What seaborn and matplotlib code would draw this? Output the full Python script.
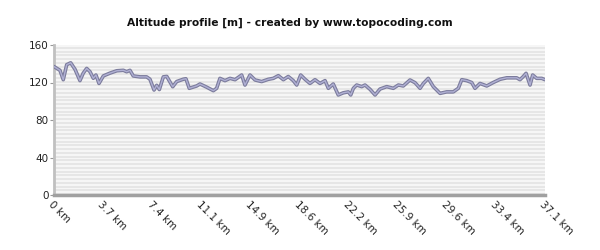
import matplotlib
matplotlib.use("Agg")
import matplotlib.pyplot as plt
import seaborn as sns
import pandas as pd

distance_km = [0.0, 0.45, 0.70, 0.96, 1.26, 1.59, 1.96, 2.21, 2.47, 2.72, 2.97, 3.17, 3.40, 3.73,
               4.23, 4.74, 5.24, 5.49, 5.74, 5.99, 6.50, 7.00, 7.25, 7.56, 7.76, 7.96, 8.26, 8.52,
               8.97, 9.27, 9.77, 9.97, 10.22, 10.78, 11.03, 11.54, 12.04, 12.29, 12.54, 12.92,
               13.30, 13.68, 14.18, 14.43, 14.81, 15.19, 15.69, 16.19, 16.57, 16.95, 17.33, 17.70,
               18.08, 18.34, 18.64, 18.97, 19.34, 19.72, 20.10, 20.48, 20.73, 21.10, 21.48, 21.86,
               22.24, 22.42, 22.62, 22.87, 23.25, 23.50, 23.88, 24.26, 24.63, 25.14, 25.64, 26.02,
               26.39, 26.90, 27.28, 27.66, 27.91, 28.28, 28.66, 29.17, 29.67, 30.17, 30.55, 30.81,
               31.18, 31.56, 31.81, 32.19, 32.70, 33.19, 33.70, 34.21, 34.96, 35.21, 35.46, 35.67,
               35.97, 36.17, 36.47, 36.85, 37.1]
altitude_m = [137, 133, 123, 139, 141, 134, 122, 130, 135, 131.5, 124.5, 128, 119, 127,
              130, 132.5, 133, 131.5, 133, 127, 126, 126, 123.5, 112, 117, 112.5, 126, 126.5,
              115.5, 121, 123.5, 124, 113.8, 116.3, 118.4, 115, 111.3, 113.8, 124.4, 122,
              124.4, 123, 128, 117.3, 128, 122.7, 121, 123.4, 124.4, 127.3, 123, 126.4,
              122, 117.3, 128, 123.4, 119, 123, 119, 122, 113.8, 118.4, 106.7, 109,
              110, 106.7, 113.8, 117.3, 115.6, 117.3, 112.7, 106.7, 113, 115.6, 113.8, 117.3,
              116.3, 122.7, 119.8, 113.8, 119, 124.4, 115.6, 108.4, 110, 110, 113.8, 123,
              122, 120, 113.8, 119, 116.3, 120, 123.4, 125, 125, 123, 126.4, 129.8,
              117.3, 128, 124.4, 124.4, 123]

tick_labels = ["0 km", "3.7 km", "7.4 km", "11.1 km", "14.9 km", "18.6 km",
               "22.2 km", "25.9 km", "29.6 km", "33.4 km", "37.1 km"]
y_ticks = [0, 40, 80, 120, 160]
title = "Altitude profile [m] - created by www.topocoding.com"

df = pd.DataFrame({"km": distance_km, "alt": altitude_m})

sns.set_style("white")
fig = plt.figure(figsize=(6, 2.5), dpi=100)
ax = fig.add_axes([54/600, 1 - 195/250, (545 - 54)/600, 150/250])
ax.set_facecolor("#f6f6f6")

for lo in range(0, 160, 4):
    ax.axhspan(lo, lo + 2, color="#e6e6e6", lw=0, zorder=0)

sns.lineplot(data=df, x="km", y="alt", ax=ax, color="#7c7c9c", lw=2.6, sort=False, zorder=3)
sns.lineplot(data=df, x="km", y="alt", ax=ax, color="#b0b0d4", lw=1.0, sort=False, zorder=4)

ax.set_xlim(0, 37.1)
ax.set_ylim(0, 160)
ax.set_xlabel("")
ax.set_ylabel("")
xt = [37.1 * i / 10 for i in range(11)]
ax.set_xticks(xt)
ax.set_xticklabels(tick_labels, rotation=-45, ha="left", va="top",
                   rotation_mode="anchor", fontsize=7.5, color="#222222")
ax.set_yticks(y_ticks)
ax.set_yticklabels([str(v) for v in y_ticks], fontsize=7.5, color="#222222")
ax.tick_params(axis="y", length=3, width=0.8, color="#999999", pad=1, left=True)
ax.tick_params(axis="x", length=0, pad=3)

for s in ["top", "right"]:
    ax.spines[s].set_visible(False)
ax.spines["left"].set_color("#c0c0c0")
ax.spines["left"].set_linewidth(2)
ax.spines["bottom"].set_color("#a0a0a0")
ax.spines["bottom"].set_linewidth(2.5)

fig.text(290/600, 1 - 23/250, title, ha="center", va="center",
         fontsize=7.7, fontweight="bold", color="#111111")

fig.savefig("out.png", dpi=100, facecolor="white")
